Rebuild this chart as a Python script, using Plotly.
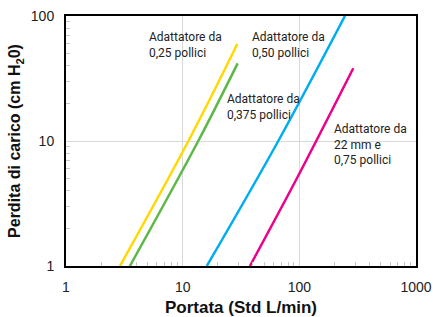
import plotly.graph_objects as go

# Data (log-log)
flow_025 = [2.9, 11.2, 29.4]
drop_025 = [1.0, 10.0, 59.7]

flow_0375 = [3.53, 13.6, 29.6]
drop_0375 = [1.0, 10.0, 41.8]

flow_050 = [16.1, 66.0, 246.0]
drop_050 = [1.0, 10.0, 100.0]

flow_075 = [37.7, 98.6, 290.0]
drop_075 = [1.0, 5.35, 38.2]

x_ticks = [1, 10, 100, 1000]
y_ticks = [1, 10, 100]
x_minor = [m * d for d in (1, 10, 100) for m in range(2, 10)]
y_minor = [m * d for d in (1, 10) for m in range(2, 10)]

series = [
    (flow_025, drop_025, "#FFD900", "Adattatore da<br>0,25 pollici", 0.231, 0.952),
    (flow_0375, drop_0375, "#5DB847", "Adattatore da<br>0,375 pollici", 0.454, 0.704),
    (flow_050, drop_050, "#00AEEF", "Adattatore da<br>0,50 pollici", 0.526, 0.952),
    (flow_075, drop_075, "#EC008C", "Adattatore da<br>22 mm e<br>0,75 pollici", 0.760, 0.585),
]

fig = go.Figure()
annotations = []
for xs, ys, col, label, ax, ay in series:
    fig.add_trace(go.Scatter(x=xs, y=ys, mode="lines",
                             line=dict(color=col, width=2.5, shape="spline", smoothing=1.0),
                             showlegend=False, hoverinfo="skip"))
    annotations.append(dict(text=label, xref="paper", yref="paper", x=ax, y=ay,
                            xanchor="left", yanchor="top", align="left", showarrow=False,
                            font=dict(family="Roboto", size=12, color="#222")))

axis_common = dict(
    type="log", showline=True, linecolor="black", linewidth=2, mirror=True,
    showgrid=True, gridcolor="#d9d9d9", gridwidth=1, zeroline=False, automargin=False,
    ticks="outside", ticklen=7, tickcolor="rgba(0,0,0,0)",
    tickfont=dict(family="Liberation Sans", size=14, color="#222"),
)

fig.update_layout(
    width=433, height=317,
    margin=dict(l=66, r=17, t=16, b=51),
    paper_bgcolor="white", plot_bgcolor="white",
    annotations=annotations,
    xaxis=dict(axis_common, range=[0, 3], tickmode="array", tickvals=x_ticks,
               ticktext=[str(v) for v in x_ticks],
               minor=dict(tickmode="array", tickvals=x_minor, ticks="inside", ticklen=4,
                          tickcolor="#c8c8c8", tickwidth=1, showgrid=False),
               title=dict(text="<b>Portata (Std L/min)</b>", standoff=7,
                          font=dict(family="Liberation Sans", size=17, color="#111"))),
    yaxis=dict(axis_common, range=[0, 2], tickmode="array", tickvals=y_ticks,
               ticktext=[str(v) for v in y_ticks],
               minor=dict(tickmode="array", tickvals=y_minor, ticks="inside", ticklen=4,
                          tickcolor="#c8c8c8", tickwidth=1, showgrid=False),
               title=dict(text="<b>Perdita di carico (cm H<sub>2</sub>0)</b>", standoff=6,
                          font=dict(family="Liberation Sans", size=16, color="#111"))),
)

fig.write_html("out.html", config={"displayModeBar": False},
               post_script="document.body.style.margin='0';document.body.style.overflow='hidden';")
